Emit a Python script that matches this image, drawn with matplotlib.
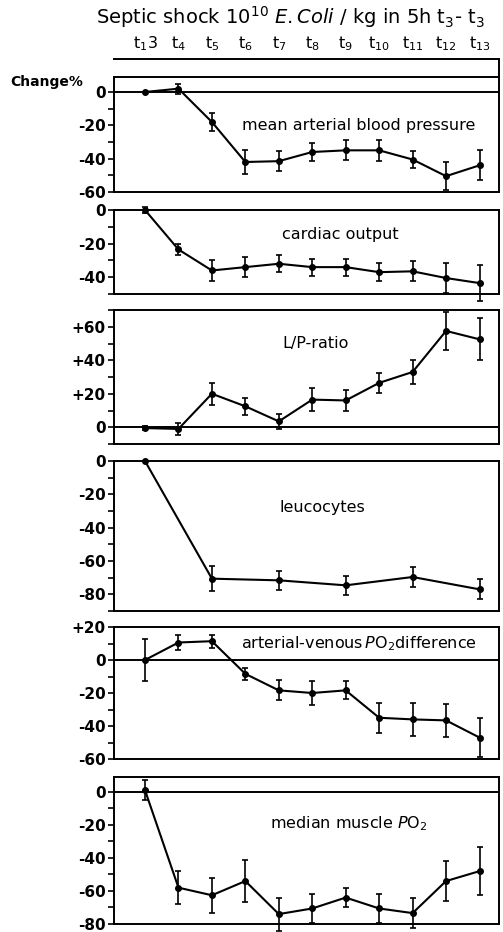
import matplotlib
matplotlib.use('Agg')
import matplotlib.pyplot as plt
import numpy as np

# time points along the top axis
time_labels = [r't$_1$3', r't$_4$', r't$_5$', r't$_6$', r't$_7$', r't$_8$',
               r't$_9$', r't$_{10}$', r't$_{11}$', r't$_{12}$', r't$_{13}$']
time_idx = list(range(11))

# change % per panel (mean, +/- error)
mabp = [0, 2, -18, -42, -41.5, -36, -35, -35, -40.5, -50.5, -44]
mabp_err = [0, 3, 5.5, 7, 6, 5.5, 6, 6.5, 5, 8.5, 9]

cardiac = [0, -23.5, -36, -34, -32, -34, -34, -37, -36.5, -40.5, -43.5]
cardiac_err = [1.5, 3, 6, 6, 5, 5, 5, 5.5, 6, 9, 10.5]

lp_ratio = [-0.5, -1, 20, 12.5, 3.5, 16.5, 16, 26.5, 33, 57.5, 52.5]
lp_ratio_err = [1, 3.5, 6.5, 5, 4.5, 7, 6, 6, 7, 11.5, 12.5]

leuco_idx = [0, 2, 4, 6, 8, 10]
leuco = [0, -70.6, -71.6, -74.6, -69.6, -77]
leuco_err = [0, 7.5, 5.5, 5.5, 6, 6]

avpo2 = [0, 10.6, 11.4, -8.4, -18.4, -20, -18.4, -35, -36, -36.6, -47]
avpo2_err = [13, 4.5, 4, 3.5, 6, 7, 5.5, 9, 10, 10, 12]

muscle = [1, -58, -62.6, -54, -74, -70.6, -64, -70.6, -73.4, -54, -48]
muscle_err = [6, 10, 10.5, 12.5, 10, 8.5, 5.5, 9, 9, 12, 14.5]

W, H = 503, 932
fig = plt.figure(figsize=(W / 100, H / 100), dpi=100)
plt.rcParams['font.family'] = ['DejaVu Sans']

X0, X1 = 114, 499
xlim = ((X0 - 145) / 33.45, (X1 - 145) / 33.45)


def add_ax(top, bottom):
    return fig.add_axes([X0 / W, 1 - bottom / H, (X1 - X0) / W, (bottom - top) / H])


panels = [
    # (top px, bottom px, x, y, err, ylim, ticks, labels, zero line, label, label pos)
    (77, 192, time_idx, mabp, mabp_err, (-60, 9), [0, -20, -40, -60],
     ['0', '-20', '-40', '-60'], True, 'mean arterial blood pressure', (6.4, -20)),
    (210, 294, time_idx, cardiac, cardiac_err, (-50, 0), [0, -20, -40],
     ['0', '-20', '-40'], False, 'cardiac output', (5.85, -14.5)),
    (310, 444, time_idx, lp_ratio, lp_ratio_err, (-10, 70), [60, 40, 20, 0],
     ['+60', '+40', '+20', '0'], True, 'L/P-ratio', (5.1, 50)),
    (461, 611, leuco_idx, leuco, leuco_err, (-90, 0), [0, -20, -40, -60, -80],
     ['0', '-20', '-40', '-60', '-80'], False, 'leucocytes', (5.3, -28)),
    (627, 759, time_idx, avpo2, avpo2_err, (-60, 20), [20, 0, -20, -40, -60],
     ['+20', '0', '-20', '-40', '-60'], True,
     r'arterial-venous$\,\mathit{P}\mathrm{O}_2$difference', (6.4, 10)),
    (777, 924, time_idx, muscle, muscle_err, (-80, 9), [0, -20, -40, -60, -80],
     ['0', '-20', '-40', '-60', '-80'], True,
     r'median muscle $\mathit{P}\mathrm{O}_2$', (6.1, -19)),
]

for top, bottom, xs, ys, es, ylim, ticks, tlabels, zero, label, lpos in panels:
    ax = add_ax(top, bottom)
    ax.set_xlim(*xlim)
    ax.set_ylim(*ylim)
    if zero:
        ax.axhline(0, color='black', lw=1.4)
    ax.errorbar(xs, ys, yerr=es, fmt='-o', color='black', ms=4, lw=1.5,
                capsize=2.5, elinewidth=1.2, capthick=1.2, clip_on=False, zorder=3)
    ax.set_xticks([])
    ax.set_yticks(ticks)
    ax.set_yticklabels(tlabels, fontweight='bold', fontsize=11)
    ax.set_yticks(np.arange(ylim[0] // 10 * 10, ylim[1] + 1, 10), minor=True)
    ax.tick_params(axis='y', which='both', direction='out', length=4, width=1.2, pad=2)
    for s in ax.spines.values():
        s.set_linewidth(1.4)
    ax.text(lpos[0], lpos[1], label, ha='center', va='center', fontsize=11.5)

# top time axis
tax = fig.add_axes([X0 / W, 1 - 77 / H, (X1 - X0) / W, (77 - 59) / H])
tax.set_xlim(*xlim)
tax.set_ylim(0, 1)
tax.patch.set_visible(False)
for side in ['left', 'bottom']:
    tax.spines[side].set_visible(False)
tax.spines['top'].set_linewidth(1.4)
tax.spines['right'].set_linewidth(1.4)
tax.set_yticks([])
tax.xaxis.tick_top()
tax.set_xticks(time_idx)
tax.set_xticklabels(time_labels, fontsize=11.5)
tax.tick_params(axis='x', length=0, pad=4)

fig.text(290 / W, 1 - 17 / H,
         r'Septic shock 10$^{10}$ $\mathit{E.Coli}$ / kg in 5h t$_3$- t$_3$',
         ha='center', va='center', fontsize=14)
fig.text(10 / W, 1 - 82 / H, 'Change%', ha='left', va='center',
         fontsize=10, fontweight='bold')

fig.savefig('out.png', dpi=100)
